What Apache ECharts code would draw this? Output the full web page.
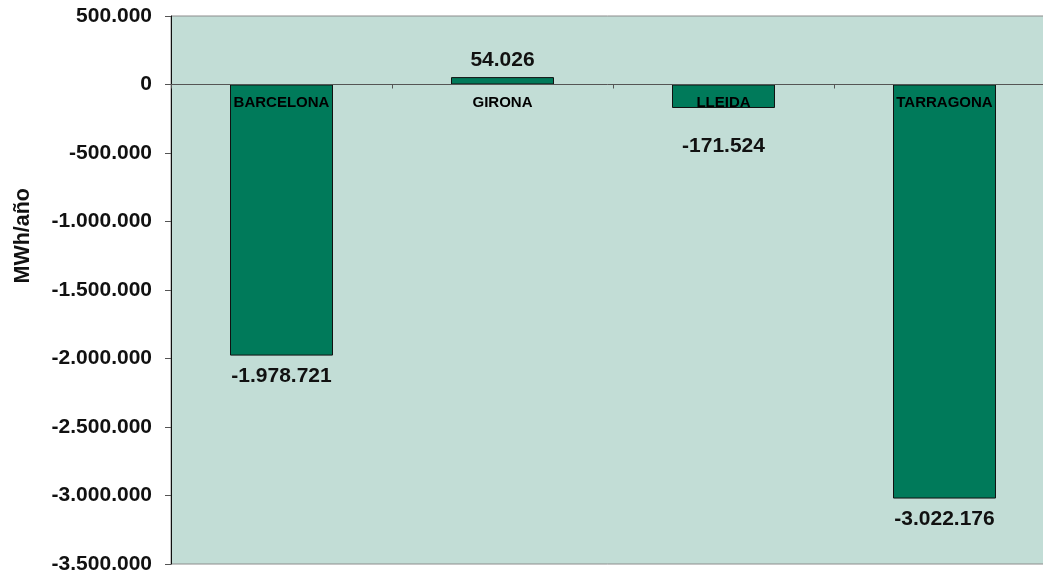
<!DOCTYPE html>
<html>
<head>
    <meta charset="utf-8">
    <script src="https://cdn.jsdelivr.net/npm/echarts@6/dist/echarts.min.js"></script>
    <style>
        html, body { margin: 0; padding: 0; background: #ffffff; }
        #chart { width: 1043px; height: 575px; }
    </style>
</head>
<body>
    <div id="chart"></div>
    <script>
        // provinces and their balance (MWh/año)
        let provinces = ['BARCELONA', 'GIRONA', 'LLEIDA', 'TARRAGONA'];
        let balance = [-1978721, 54026, -171524, -3022176];
        // distance of the value label from the bar end
        let labelGap = [10, 6, 28, 10];

        let yMin = -3500000;
        let yMax = 500000;
        let yStep = 500000;

        let font = '"Liberation Sans", Arial, sans-serif';

        function fmt(v) {
            let s = Math.abs(Math.round(v)).toString().replace(/\B(?=(\d{3})+(?!\d))/g, '.');
            return (v < 0 ? '-' : '') + s;
        }

        var chart = echarts.init(document.getElementById('chart'), null, { renderer: 'canvas' });

        var barData = balance.map((v, i) => ({
            value: v,
            label: { distance: labelGap[i] }
        }));

        // category names sit just under the zero line, on top of the bars
        var nameData = provinces.map(p => [p, 0]);

        var option = {
            animation: false,
            grid: {
                left: 171,
                right: -12,
                top: 16,
                bottom: 11,
                outerBoundsMode: 'none',
                containLabel: false,
                show: true,
                backgroundColor: '#c2ddd6',
                borderColor: '#8c8c8c',
                borderWidth: 1
            },
            xAxis: {
                type: 'category',
                data: provinces,
                z: 10,
                axisLine: { onZero: true, lineStyle: { color: '#555555', width: 1 } },
                axisTick: { show: true, length: 4, lineStyle: { color: '#555555' } },
                axisLabel: { show: false }
            },
            yAxis: {
                type: 'value',
                min: yMin,
                max: yMax,
                interval: yStep,
                splitLine: { show: false },
                axisLine: { show: true, lineStyle: { color: '#111111', width: 1 } },
                axisTick: { show: true, length: 6, lineStyle: { color: '#555555' } },
                axisLabel: {
                    margin: 19,
                    color: '#111111',
                    fontFamily: font,
                    fontWeight: 'bold',
                    fontSize: 21,
                    formatter: fmt
                }
            },
            graphic: [{
                type: 'text',
                left: 12,
                top: 188,
                rotation: Math.PI / 2,
                style: {
                    text: 'MWh/año',
                    fill: '#111111',
                    font: 'bold 21.5px ' + font
                }
            }],
            series: [{
                type: 'bar',
                data: barData,
                barWidth: '46.6%',
                itemStyle: {
                    color: '#007a5a',
                    borderColor: '#111111',
                    borderWidth: 1
                },
                label: {
                    show: true,
                    position: 'outside',
                    color: '#111111',
                    fontFamily: font,
                    fontWeight: 'bold',
                    fontSize: 21,
                    formatter: p => fmt(p.value)
                }
            }, {
                type: 'scatter',
                data: nameData,
                symbolSize: 0,
                z: 12,
                silent: true,
                itemStyle: { opacity: 1 },
                label: {
                    show: true,
                    position: 'bottom',
                    distance: 11,
                    opacity: 1,
                    color: '#000000',
                    fontFamily: font,
                    fontWeight: 'bold',
                    fontSize: 15,
                    formatter: p => p.value[0]
                }
            }]
        };
        chart.setOption(option);
    </script>
</body>
</html>
